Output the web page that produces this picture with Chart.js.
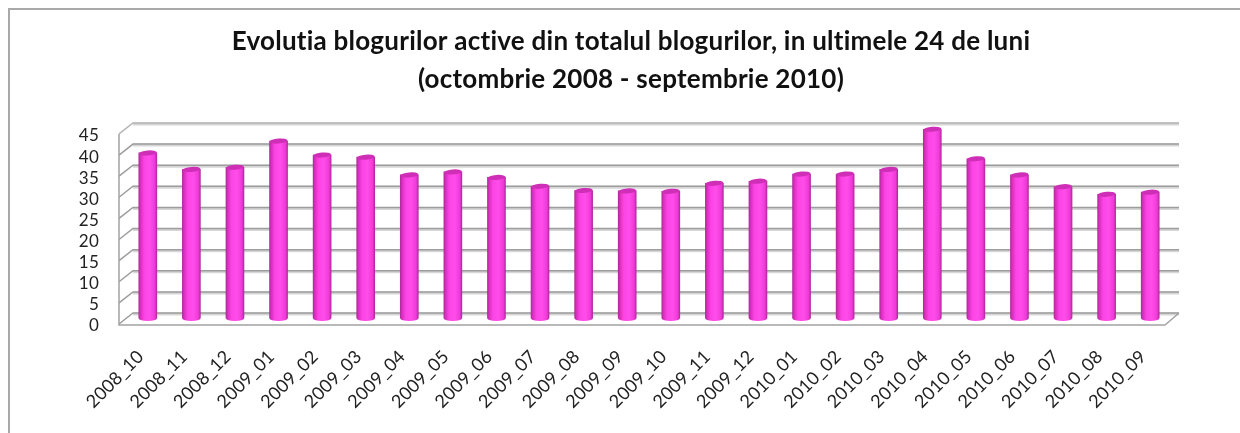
<!DOCTYPE html>
<html>
<head>
<meta charset="utf-8">
<title>Evolutia blogurilor active</title>
<script src="https://cdn.jsdelivr.net/npm/chart.js@4"></script>
<style>
html,body{margin:0;padding:0;background:#fff;overflow:hidden}
canvas{display:block}
</style>
</head>
<body>
<canvas id="chart" width="1240" height="433"></canvas>
<script>
const months = ["2008_10","2008_11","2008_12","2009_01","2009_02","2009_03","2009_04","2009_05","2009_06","2009_07","2009_08","2009_09","2009_10","2009_11","2009_12","2010_01","2010_02","2010_03","2010_04","2010_05","2010_06","2010_07","2010_08","2010_09"]
const activePercent = [39.2,35.3,35.8,42,38.7,38.2,34,34.7,33.4,31.3,30.3,30.2,30.1,32,32.5,34.2,34.2,35.3,44.8,37.8,34,31.2,29.4,29.9]
const titleLines = ["Evolutia blogurilor active din totalul blogurilor, in ultimele 24 de luni","(octombrie 2008 - septembrie 2010)"]

// depth of the fake 3d box
const depthX = 14
const depthY = 11
const barW = 18
// y labels sit a bit lower than the front edge of the box
const lift = 2

function cylinderFill(ctx,cx){
const g = ctx.createLinearGradient(cx-barW/2,0,cx+barW/2,0)
g.addColorStop(0,"#b02a9c")
g.addColorStop(0.1,"#d92fc0")
g.addColorStop(0.3,"#fb44e4")
g.addColorStop(0.6,"#ff4dea")
g.addColorStop(0.88,"#f03ad8")
g.addColorStop(1,"#b02a9c")
return g
}

// frame, walls and grid lines behind the bars
const box3d = {
id:"box3d",
beforeDraw(chart){
// a little spacing also switches off the Lato "ti" ligature
chart.ctx.letterSpacing = "0.24px"
},
beforeDatasetsDraw(chart){
const c = chart.ctx
const y = chart.scales.y
const a = chart.chartArea

c.save()
c.strokeStyle = "#a9a9a9"
c.lineWidth = 2
c.beginPath()
c.moveTo(1240,9)
c.lineTo(9,9)
c.lineTo(9,433)
c.stroke()

c.translate(0,-lift)
y.ticks.forEach(t=>{
const py = y.getPixelForValue(t.value)
c.strokeStyle = "#d6d6d6"
c.lineWidth = 3
c.beginPath()
c.moveTo(a.left+depthX,py-depthY+1)
c.lineTo(a.right+depthX,py-depthY+1)
c.stroke()
c.strokeStyle = t.value===45 ? "#b5b5b5" : "#9d9d9d"
c.lineWidth = 1.5
c.beginPath()
c.moveTo(a.left,py)
c.lineTo(a.left+depthX,py-depthY)
c.lineTo(a.right+depthX,py-depthY)
c.stroke()
})

// left edge and floor
const y0 = y.getPixelForValue(0)
c.strokeStyle = "#a3a3a3"
c.lineWidth = 1.5
c.beginPath()
c.moveTo(a.left,y.getPixelForValue(45))
c.lineTo(a.left,y0+1)
c.lineTo(a.right,y0+1)
c.lineTo(a.right+depthX,y0-depthY)
c.stroke()
c.restore()

// bars stand in the middle of the box
c.save()
c.translate(depthX/2,-depthY/2-lift)
},
afterDatasetsDraw(chart){
const c = chart.ctx
chart.getDatasetMeta(0).data.forEach(bar=>{
c.fillStyle = cylinderFill(c,bar.x)
c.beginPath()
c.ellipse(bar.x,bar.base,barW/2,2.5,0,0,Math.PI*2)
c.fill()
c.fillStyle = "#cf2fb6"
c.beginPath()
c.ellipse(bar.x,bar.y,barW/2,2.5,-0.08,0,Math.PI*2)
c.fill()
})
c.restore()
}
}

new Chart(document.getElementById("chart"),{
type:"bar",
plugins:[box3d],
data:{
labels:months,
datasets:[{
data:activePercent,
barThickness:barW,
backgroundColor(context){
const cx = context.dataIndex===undefined ? NaN : context.chart.scales.x.getPixelForValue(context.dataIndex)
if(!isFinite(cx)) return "#ff4dea"
return cylinderFill(context.chart.ctx,cx)
}
}]
},
options:{
responsive:false,
animation:false,
layout:{padding:{left:22,right:0,top:0,bottom:0}},
plugins:{
legend:{display:false},
tooltip:{enabled:false},
title:{
display:true,
text:titleLines,
color:"#111",
font:{family:"Lato",size:26,weight:"bold",lineHeight:1.46},
padding:{top:23,bottom:37}
}
},
scales:{
x:{
grid:{display:false},
border:{display:false},
afterFit(s){s.height = 107},
ticks:{
color:"#222",
font:{family:"Lato",size:18},
minRotation:45,
maxRotation:45,
autoSkip:false,
padding:12
}
},
y:{
min:0,
max:45,
grid:{display:false},
border:{display:false},
afterFit(s){s.width = 97},
ticks:{
stepSize:5,
autoSkip:false,
color:"#222",
font:{family:"Lato",size:17},
padding:12
}
},
// empty axis, only keeps the room on the right so the title sits off centre
rightGap:{
type:"linear",
position:"right",
grid:{display:false},
border:{display:false},
ticks:{display:false},
afterFit(s){s.width = 75}
}
}
}
})
</script>
</body>
</html>
